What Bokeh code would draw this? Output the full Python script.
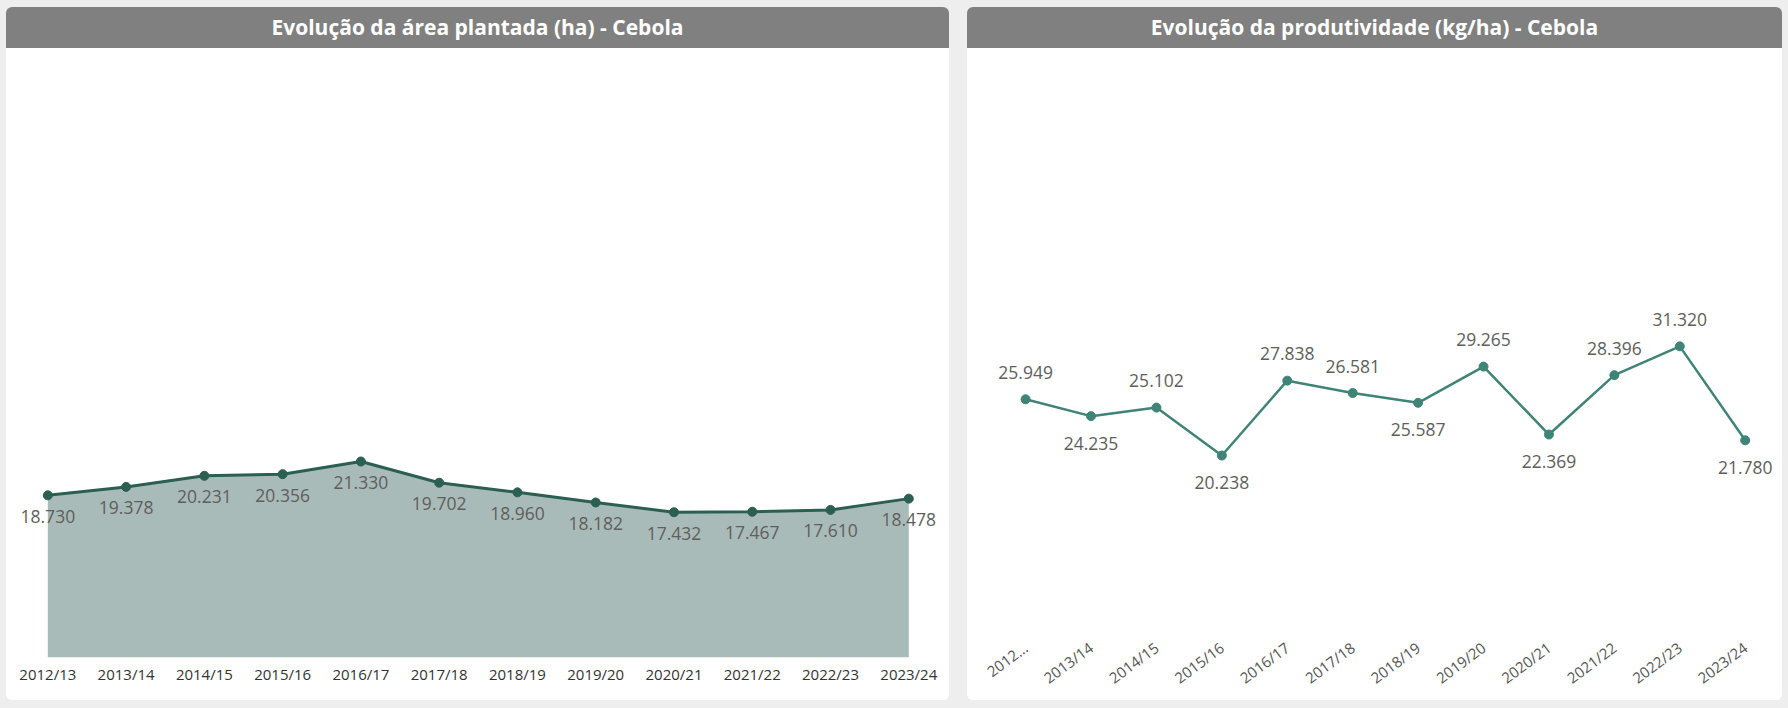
from bokeh.plotting import figure
from bokeh.models import Range1d, FixedTicker, ColumnDataSource, Div, GlobalInlineStyleSheet
from bokeh.layouts import row, column
from bokeh.core.properties import value
from bokeh.embed import file_html
from bokeh.resources import INLINE

# ---- data ----
seasons = ["2012/13", "2013/14", "2014/15", "2015/16", "2016/17", "2017/18",
           "2018/19", "2019/20", "2020/21", "2021/22", "2022/23", "2023/24"]
area_ha = [18730, 19378, 20231, 20356, 21330, 19702, 18960, 18182, 17432, 17467, 17610, 18478]
yield_kgha = [25949, 24235, 25102, 20238, 27838, 26581, 25587, 29265, 22369, 28396, 31320, 21780]
title_area = "Evolução da área plantada (ha) - Cebola"
title_yield = "Evolução da produtividade (kg/ha) - Cebola"

# ---- styles ----
PAGE_BG = "#EDEEED"
BAR_BG = "#808080"
AREA_FILL = "#A9BBB8"
AREA_LINE = "#2B5F51"
YIELD_LINE = "#3F8477"
LABEL_COLOR = "#605E5C"
FONT = "Open Sans"
W1, W2, H_TITLE, H_FIG = 943, 815, 41, 652


def fmt(v):
    return f"{v:,}".replace(",", ".")


def title_div(text, width):
    return Div(text=text, width=width, height=H_TITLE, margin=0, styles={
        "background-color": BAR_BG, "color": "white", "font-weight": "bold",
        "font-size": "21px", "font-family": FONT, "text-align": "center",
        "line-height": f"{H_TITLE}px", "border-radius": "6px 6px 0 0",
    })


def style_fig(p):
    p.xgrid.visible = False
    p.ygrid.visible = False
    p.outline_line_color = None
    p.background_fill_color = "white"
    p.border_fill_color = "white"
    ax = p.xaxis[0]
    ax.axis_line_color = None
    ax.major_tick_line_color = None
    ax.minor_tick_line_color = None
    ax.major_tick_out = 0
    ax.major_tick_in = 0
    ax.major_label_text_font = FONT


idx = list(range(len(seasons)))

# ---- left: area chart ----
y1_start, y1_end = 6275, 53053
src1 = ColumnDataSource(dict(x=idx, v=area_ha, lab=[fmt(v) for v in area_ha]))
p1 = figure(width=W1, height=H_FIG, x_range=Range1d(-0.528, 11.52),
            y_range=Range1d(y1_start, y1_end), y_axis_location=None,
            output_backend="svg", toolbar_location=None, margin=0,
            min_border_left=0, min_border_right=0, min_border_top=0, min_border_bottom=43)
style_fig(p1)
p1.varea(x="x", y1=y1_start, y2="v", source=src1, fill_color=AREA_FILL, fill_alpha=1)
p1.line("x", "v", source=src1, line_color=AREA_LINE, line_width=3)
p1.scatter("x", "v", source=src1, size=9, fill_color=AREA_LINE, line_color=AREA_LINE)
p1.text("x", "v", text="lab", source=src1, y_offset=21, text_align="center",
        text_baseline="middle", text_font=value(FONT), text_font_size="17.5px",
        text_color=LABEL_COLOR)
p1.xaxis.ticker = FixedTicker(ticks=idx)
p1.xaxis.major_label_overrides = {i: s for i, s in zip(idx, seasons)}
p1.xaxis.major_label_text_font_size = "15px"
p1.xaxis.major_label_text_color = "#333333"
p1.xaxis.major_label_standoff = 6

# ---- right: line chart ----
y2_start, y2_end = 2376, 61552
offs = []
for i, v in enumerate(yield_kgha):
    prev_ok = i == 0 or v < yield_kgha[i - 1]
    next_ok = i == len(yield_kgha) - 1 or v < yield_kgha[i + 1]
    offs.append(27 if (prev_ok and next_ok) else -27)
src2 = ColumnDataSource(dict(x=idx, v=yield_kgha, lab=[fmt(v) for v in yield_kgha], dy=offs))
p2 = figure(width=W2, height=H_FIG, x_range=Range1d(-0.888, 11.57),
            y_range=Range1d(y2_start, y2_end), y_axis_location=None,
            output_backend="svg", toolbar_location=None, margin=0,
            min_border_left=0, min_border_right=0, min_border_top=0, min_border_bottom=69)
style_fig(p2)
p2.line("x", "v", source=src2, line_color=YIELD_LINE, line_width=2.5)
p2.scatter("x", "v", source=src2, size=9, fill_color=YIELD_LINE, line_color=YIELD_LINE)
p2.text("x", "v", text="lab", source=src2, y_offset="dy", text_align="center",
        text_baseline="middle", text_font=value(FONT), text_font_size="17.5px",
        text_color=LABEL_COLOR)
short = [s if i > 0 else s[:4] + "..." for i, s in enumerate(seasons)]
p2.xaxis.ticker = FixedTicker(ticks=idx)
p2.xaxis.major_label_overrides = {i: s for i, s in zip(idx, short)}
p2.xaxis.major_label_text_font_size = "15px"
p2.xaxis.major_label_text_color = "#555555"
p2.xaxis.major_label_orientation = 0.64
p2.xaxis.major_label_standoff = 14

for p in (p1, p2):
    p.styles = {"border-radius": "0 0 6px 6px", "overflow": "hidden",
                "background-color": "white"}

layout = row(column(title_div(title_area, W1), p1, spacing=0, margin=0),
             column(title_div(title_yield, W2), p2, spacing=0, margin=0),
             spacing=18)
layout.margin = (7, 0, 0, 6)
layout.stylesheets = [GlobalInlineStyleSheet(css=f"html, body {{ background: {PAGE_BG}; }}")]

open("out.html", "w").write(file_html(layout, INLINE))
